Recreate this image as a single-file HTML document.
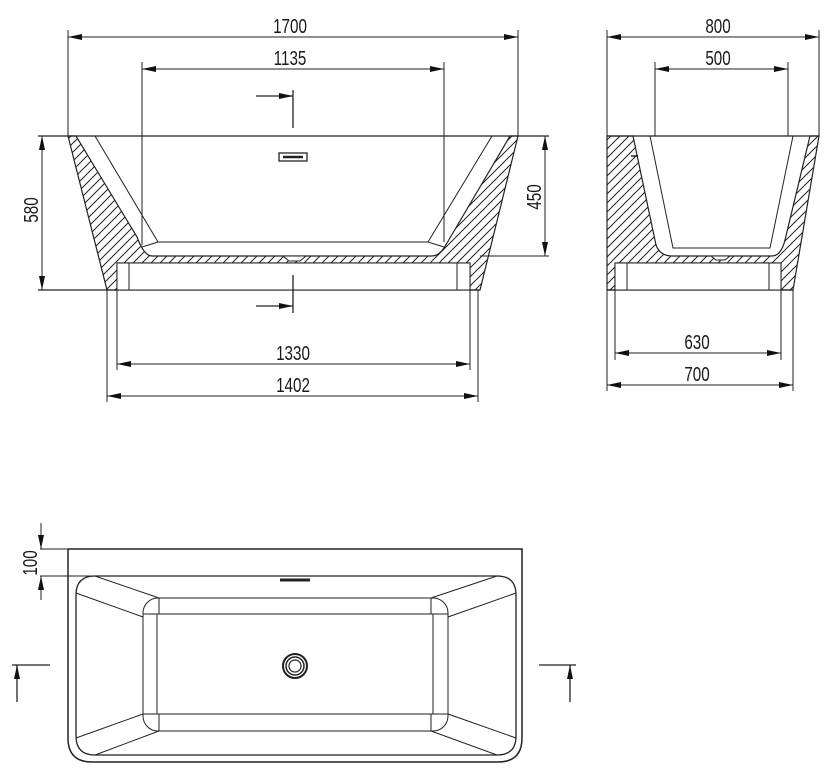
<!DOCTYPE html>
<html><head><meta charset="utf-8"><style>
html,body{margin:0;padding:0;background:#fff;}
svg{display:block;}
text{font-family:"Liberation Sans",sans-serif;font-size:20px;fill:#1a1a1a;}
</style></head><body>
<svg width="833" height="779" viewBox="0 0 833 779" xmlns="http://www.w3.org/2000/svg">
<defs>
<marker id="ar" viewBox="0 0 14 6" refX="14" refY="3" markerWidth="14" markerHeight="6" markerUnits="userSpaceOnUse" orient="auto-start-reverse"><path d="M0,0 L14,3 L0,6 Z" fill="#111"/></marker>
<pattern id="h" patternUnits="userSpaceOnUse" width="9" height="9"><path d="M-2,2 l4,-4 M0,9 l9,-9 M7,11 l4,-4" stroke="#222" stroke-width="1"/></pattern>
</defs>
<g stroke="#222" stroke-width="1" fill="none">
<!-- FRONT VIEW -->
<line x1="68" y1="30" x2="68" y2="136"/><line x1="518" y1="30" x2="518" y2="136"/>
<line x1="68" y1="37" x2="518" y2="37" marker-start="url(#ar)" marker-end="url(#ar)"/>
<line x1="142" y1="62" x2="142" y2="245"/><line x1="444" y1="62" x2="444" y2="242"/>
<line x1="142" y1="69" x2="444" y2="69" marker-start="url(#ar)" marker-end="url(#ar)"/>
<line x1="38" y1="136" x2="549" y2="136" stroke-width="1.3"/>
<line x1="38" y1="290" x2="480" y2="290" stroke-width="1.3"/>
<line x1="480" y1="256" x2="549" y2="256"/>
<path d="M68,136 L107,290 L117,290 L117,263 L470,263 L470,290 L480,290 L518,136 L510,136 L447,243 Q440,256 432,256 L152,256 Q144,256 137,237 L76,136 Z" fill="url(#h)" stroke-width="1.2"/>
<path d="M95,136 L158,242 L428,242 L492,136"/>
<path d="M142,247 L158,242 M444,247 L428,242"/>
<rect x="117" y="263" width="353" height="27" fill="#fff"/>
<line x1="129" y1="263" x2="129" y2="290"/><line x1="457" y1="263" x2="457" y2="290"/>
<rect x="279" y="153" width="28" height="8" stroke-width="1.3"/>
<line x1="283" y1="157" x2="303" y2="157" stroke-width="2.5"/>
<path d="M283,256 L306,256 L300,261 L289,261 Z" fill="#fff"/>
<line x1="293" y1="90" x2="293" y2="128" stroke-width="1.3"/>
<line x1="256" y1="96" x2="293" y2="96" marker-end="url(#ar)" stroke-width="1.3"/>
<line x1="293" y1="275" x2="293" y2="313" stroke-width="1.3"/>
<line x1="256" y1="306" x2="293" y2="306" marker-end="url(#ar)" stroke-width="1.3"/>
<line x1="42" y1="136" x2="42" y2="290" marker-start="url(#ar)" marker-end="url(#ar)"/>
<line x1="545" y1="136" x2="545" y2="256" marker-start="url(#ar)" marker-end="url(#ar)"/>
<line x1="117" y1="290" x2="117" y2="370"/><line x1="470" y1="290" x2="470" y2="370"/>
<line x1="107" y1="290" x2="107" y2="402"/><line x1="478" y1="290" x2="478" y2="402"/>
<line x1="117" y1="364" x2="470" y2="364" marker-start="url(#ar)" marker-end="url(#ar)"/>
<line x1="107" y1="396" x2="478" y2="396" marker-start="url(#ar)" marker-end="url(#ar)"/>

<!-- SIDE VIEW -->
<line x1="607" y1="30" x2="607" y2="136"/><line x1="819" y1="30" x2="819" y2="136"/>
<line x1="607" y1="37" x2="819" y2="37" marker-start="url(#ar)" marker-end="url(#ar)"/>
<line x1="655" y1="62" x2="655" y2="136"/><line x1="788" y1="62" x2="788" y2="136"/>
<line x1="655" y1="69" x2="788" y2="69" marker-start="url(#ar)" marker-end="url(#ar)"/>
<line x1="607" y1="136" x2="819" y2="136" stroke-width="1.3"/>
<line x1="607" y1="290" x2="793" y2="290" stroke-width="1.3"/>
<path d="M607,136 L607,290 L615,290 L615,263 L781,263 L781,290 L793,290 L819,136 L810,136 L785,240 Q781,256 772,256 L672,256 Q660,256 656,245 L633,136 Z" fill="url(#h)" stroke-width="1.2"/>
<path d="M650,136 L673,248 L770,248 L793,136"/>
<rect x="615" y="263" width="166" height="27" fill="#fff"/>
<line x1="627" y1="263" x2="627" y2="290"/><line x1="769" y1="263" x2="769" y2="290"/>
<path d="M711,256 L730,256 L725,260 L716,260 Z" fill="#fff"/>
<line x1="631" y1="156" x2="638" y2="156" stroke-width="1.5"/>
<line x1="615" y1="290" x2="615" y2="360"/><line x1="781" y1="290" x2="781" y2="360"/>
<line x1="793" y1="290" x2="793" y2="391"/>
<line x1="607" y1="290" x2="607" y2="391"/>
<line x1="615" y1="353" x2="781" y2="353" marker-start="url(#ar)" marker-end="url(#ar)"/>
<line x1="607" y1="385" x2="793" y2="385" marker-start="url(#ar)" marker-end="url(#ar)"/>

<!-- TOP VIEW -->
<path d="M68,549 L522,549 L522,738 Q522,762 498,762 L92,762 Q68,762 68,738 Z" stroke-width="1.5"/>
<path d="M95,576 L497,576 Q516,576 516,595 L516,736 Q516,755 497,755 L95,755 Q76,755 76,736 L76,595 Q76,576 95,576 Z" stroke-width="1.3"/>
<line x1="40" y1="549" x2="68" y2="549"/><line x1="40" y1="576" x2="95" y2="576"/>
<rect x="143" y="598" width="305" height="133" rx="15"/>
<rect x="157" y="614" width="276" height="100"/>
<line x1="159" y1="598" x2="159" y2="614"/><line x1="431" y1="598" x2="431" y2="614"/>
<line x1="159" y1="714" x2="159" y2="731"/><line x1="431" y1="714" x2="431" y2="731"/>
<line x1="143" y1="614" x2="157" y2="614"/><line x1="433" y1="614" x2="448" y2="614"/>
<line x1="143" y1="714" x2="157" y2="714"/><line x1="433" y1="714" x2="448" y2="714"/>
<line x1="95" y1="576" x2="159" y2="598"/><line x1="76" y1="593" x2="143" y2="617"/>
<line x1="95" y1="755" x2="159" y2="731"/><line x1="76" y1="738" x2="143" y2="714"/>
<line x1="497" y1="576" x2="431" y2="598"/><line x1="516" y1="593" x2="448" y2="617"/>
<line x1="497" y1="755" x2="431" y2="731"/><line x1="516" y1="738" x2="448" y2="714"/>
<line x1="280" y1="580" x2="310" y2="580" stroke-width="3"/>
<circle cx="295" cy="666" r="12" stroke-width="2"/>
<circle cx="295" cy="666" r="9" stroke-width="1.5"/>
<circle cx="295" cy="666" r="6" stroke-width="1.2"/>
<line x1="41" y1="523" x2="41" y2="549" marker-end="url(#ar)"/>
<line x1="41" y1="600" x2="41" y2="576" marker-end="url(#ar)"/>
<line x1="12" y1="665" x2="50" y2="665" stroke-width="1.3"/>
<line x1="17" y1="702" x2="17" y2="665" marker-end="url(#ar)" stroke-width="1.3"/>
<line x1="539" y1="665" x2="576" y2="665" stroke-width="1.3"/>
<line x1="570" y1="702" x2="570" y2="665" marker-end="url(#ar)" stroke-width="1.3"/>
</g>
<g>
<text text-anchor="middle" transform="translate(290 33) scale(0.76 1)">1700</text>
<text text-anchor="middle" transform="translate(290 65) scale(0.76 1)">1135</text>
<text text-anchor="middle" transform="translate(293 360) scale(0.76 1)">1330</text>
<text text-anchor="middle" transform="translate(293 392) scale(0.76 1)">1402</text>
<text text-anchor="middle" transform="translate(718 33) scale(0.76 1)">800</text>
<text text-anchor="middle" transform="translate(718 65) scale(0.76 1)">500</text>
<text text-anchor="middle" transform="translate(697 349) scale(0.76 1)">630</text>
<text text-anchor="middle" transform="translate(697 381) scale(0.76 1)">700</text>
<text text-anchor="middle" transform="translate(38 210) rotate(-90) scale(0.76 1)">580</text>
<text text-anchor="middle" transform="translate(541 197) rotate(-90) scale(0.76 1)">450</text>
<text text-anchor="middle" transform="translate(37 563) rotate(-90) scale(0.76 1)">100</text>
</g>
</svg>
</body></html>
